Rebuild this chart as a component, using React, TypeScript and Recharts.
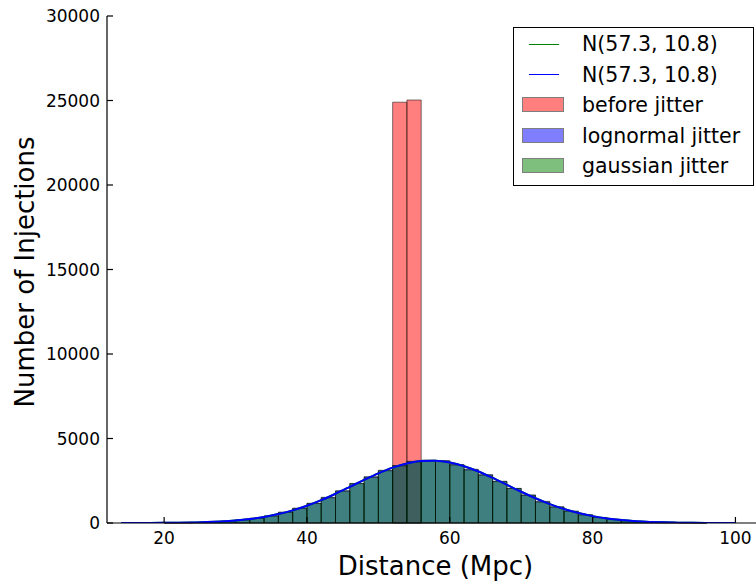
import React from "react";
import { ComposedChart, Line, XAxis, YAxis, ReferenceArea } from "recharts";

// histogram bins: left edges, width 2 Mpc
const BIN_LEFT = [20, 22, 24, 26, 28, 30, 32, 34, 36, 38, 40, 42, 44, 46, 48, 50, 52, 54, 56, 58, 60, 62, 64, 66, 68, 70, 72, 74, 76, 78, 80, 82, 84, 86, 88, 90, 92, 94];
const BIN_WIDTH = 2;

const BEFORE_JITTER = [0, 0, 0, 0, 0, 0, 0, 0, 0, 0, 0, 0, 0, 0, 0, 0, 24900, 25030, 0, 0, 0, 0, 0, 0, 0, 0, 0, 0, 0, 0, 0, 0, 0, 0, 0, 0, 0, 0];
const LOGNORMAL_JITTER = [5, 12, 28, 60, 110, 180, 285, 420, 640, 880, 1170, 1520, 1910, 2330, 2740, 3120, 3400, 3650, 3720, 3690, 3460, 3180, 2860, 2470, 2050, 1660, 1280, 960, 690, 490, 330, 215, 135, 85, 50, 28, 14, 8];
const GAUSSIAN_JITTER = [8, 15, 30, 55, 100, 185, 270, 410, 630, 860, 1150, 1490, 1880, 2340, 2700, 3090, 3380, 3620, 3700, 3660, 3430, 3140, 2830, 2450, 2040, 1640, 1240, 940, 700, 480, 320, 205, 125, 80, 45, 25, 12, 6];

// fitted curve N(57.3, 10.8)
const CURVE_X = [14, 16, 18, 20, 22, 24, 26, 28, 30, 32, 34, 36, 38, 40, 42, 44, 46, 48, 50, 52, 54, 56, 58, 60, 62, 64, 66, 68, 70, 72, 74, 76, 78, 80, 82, 84, 86, 88, 90, 92, 94, 96, 98, 100];
const CURVE_Y = [1, 2, 5, 10, 18, 32, 55, 93, 151, 238, 360, 528, 748, 1024, 1354, 1731, 2137, 2550, 2940, 3275, 3526, 3667, 3686, 3580, 3360, 3048, 2670, 2261, 1850, 1463, 1117, 825, 588, 406, 270, 174, 108, 65, 38, 21, 11, 6, 3, 1];

const X_TICKS = [20, 40, 60, 80, 100];
const Y_TICKS = [0, 5000, 10000, 15000, 20000, 25000, 30000];

const FONT = "'DejaVu Sans', sans-serif";
const PLOT_LEFT = 107;
const PLOT_TOP = 16;
const PLOT_BOTTOM = 523;

const curveData = CURVE_X.map((x, i) => ({ x, gauss: CURVE_Y[i], logn: CURVE_Y[i] }));

const BottomTick = ({ x, payload }: any) => (
  <g>
    <line x1={x} x2={x} y1={PLOT_BOTTOM} y2={PLOT_BOTTOM - 6} stroke="#000" strokeWidth={1.2} />
    <text x={x} y={PLOT_BOTTOM + 21} textAnchor="middle" fontSize={17} fontFamily={FONT} fill="#000">
      {payload.value}
    </text>
  </g>
);

const TopTick = ({ x }: any) => (
  <line x1={x} x2={x} y1={PLOT_TOP} y2={PLOT_TOP + 6} stroke="#000" strokeWidth={1.2} />
);

const LeftTick = ({ y, payload }: any) => (
  <g>
    <line x1={PLOT_LEFT} x2={PLOT_LEFT + 6} y1={y} y2={y} stroke="#000" strokeWidth={1.2} />
    <text x={PLOT_LEFT - 7} y={y + 6} textAnchor="end" fontSize={17} fontFamily={FONT} fill="#000">
      {payload.value}
    </text>
  </g>
);

function bins(values: number[], color: string, key: string) {
  return BIN_LEFT.map((left, i) =>
    values[i] > 0 ? (
      <ReferenceArea
        key={key + i}
        x1={left}
        x2={left + BIN_WIDTH}
        y1={0}
        y2={values[i]}
        fill={color}
        fillOpacity={0.5}
        stroke="#000"
        strokeOpacity={0.5}
        strokeWidth={1}
      />
    ) : null
  );
}

const legendRows = [
  { kind: "line", color: "#008000", label: "N(57.3, 10.8)" },
  { kind: "line", color: "#0000ff", label: "N(57.3, 10.8)" },
  { kind: "patch", color: "#ff0000", label: "before jitter" },
  { kind: "patch", color: "#0000ff", label: "lognormal jitter" },
  { kind: "patch", color: "#008000", label: "gaussian jitter" },
];

function LegendBox() {
  return (
    <div
      style={{
        position: "absolute",
        left: 513,
        top: 27,
        width: 239,
        height: 157,
        border: "1px solid #000",
        background: "#fff",
        fontFamily: FONT,
        fontSize: 20.5,
      }}
    >
      {legendRows.map((r, i) => {
        const cy = 16 + i * 30.6;
        return (
          <div key={i}>
            {r.kind === "line" ? (
              <div style={{ position: "absolute", left: 15, top: cy - 0.5, width: 30, height: 1.3, background: r.color }} />
            ) : (
              <div
                style={{
                  position: "absolute",
                  left: 8,
                  top: cy - 8,
                  width: 42,
                  height: 15,
                  background: r.color,
                  opacity: 0.5,
                  border: "1px solid #000",
                  boxSizing: "border-box",
                }}
              />
            )}
            <div style={{ position: "absolute", left: 68, top: cy - 13, lineHeight: "26px", whiteSpace: "nowrap", color: "#000" }}>
              {r.label}
            </div>
          </div>
        );
      })}
    </div>
  );
}

export default function App() {
  return (
    <div style={{ position: "fixed", left: 0, top: 0, width: 756, height: 581, overflow: "hidden", background: "#fff" }}>
      <ComposedChart
        width={775}
        height={581}
        data={curveData}
        margin={{ top: PLOT_TOP, right: 11, bottom: 0, left: 47 }}
      >
        <XAxis
          dataKey="x"
          type="number"
          domain={[12, 104]}
          ticks={X_TICKS}
          allowDataOverflow
          height={58}
          axisLine={{ stroke: "#000", strokeWidth: 1.2 }}
          tickLine={false}
          tick={<BottomTick />}
          label={{
            content: (p: any) => (
              <text
                x={p.viewBox.x + p.viewBox.width / 2}
                y={575}
                textAnchor="middle"
                fontSize={26}
                fontFamily={FONT}
                fill="#000"
              >
                Distance (Mpc)
              </text>
            ),
          }}
        />
        <XAxis
          xAxisId="top"
          dataKey="x"
          type="number"
          orientation="top"
          domain={[12, 104]}
          ticks={X_TICKS}
          allowDataOverflow
          height={0}
          axisLine={{ stroke: "#000", strokeWidth: 1.2 }}
          tickLine={false}
          tick={<TopTick />}
        />
        <YAxis
          type="number"
          domain={[0, 30000]}
          ticks={Y_TICKS}
          allowDataOverflow
          width={60}
          axisLine={{ stroke: "#000", strokeWidth: 1.2 }}
          tickLine={false}
          tick={<LeftTick />}
          label={{
            content: () => (
              <text
                x={34}
                y={272}
                transform="rotate(-90 34 272)"
                textAnchor="middle"
                fontSize={26}
                fontFamily={FONT}
                fill="#000"
              >
                Number of Injections
              </text>
            ),
          }}
        />
        {bins(BEFORE_JITTER, "#ff0000", "b")}
        {bins(LOGNORMAL_JITTER, "#0000ff", "l")}
        {bins(GAUSSIAN_JITTER, "#008000", "g")}
        <Line dataKey="gauss" type="monotone" stroke="#008000" strokeWidth={2} dot={false} isAnimationActive={false} />
        <Line dataKey="logn" type="monotone" stroke="#0000ff" strokeWidth={2} dot={false} isAnimationActive={false} />
      </ComposedChart>
      <LegendBox />
    </div>
  );
}
